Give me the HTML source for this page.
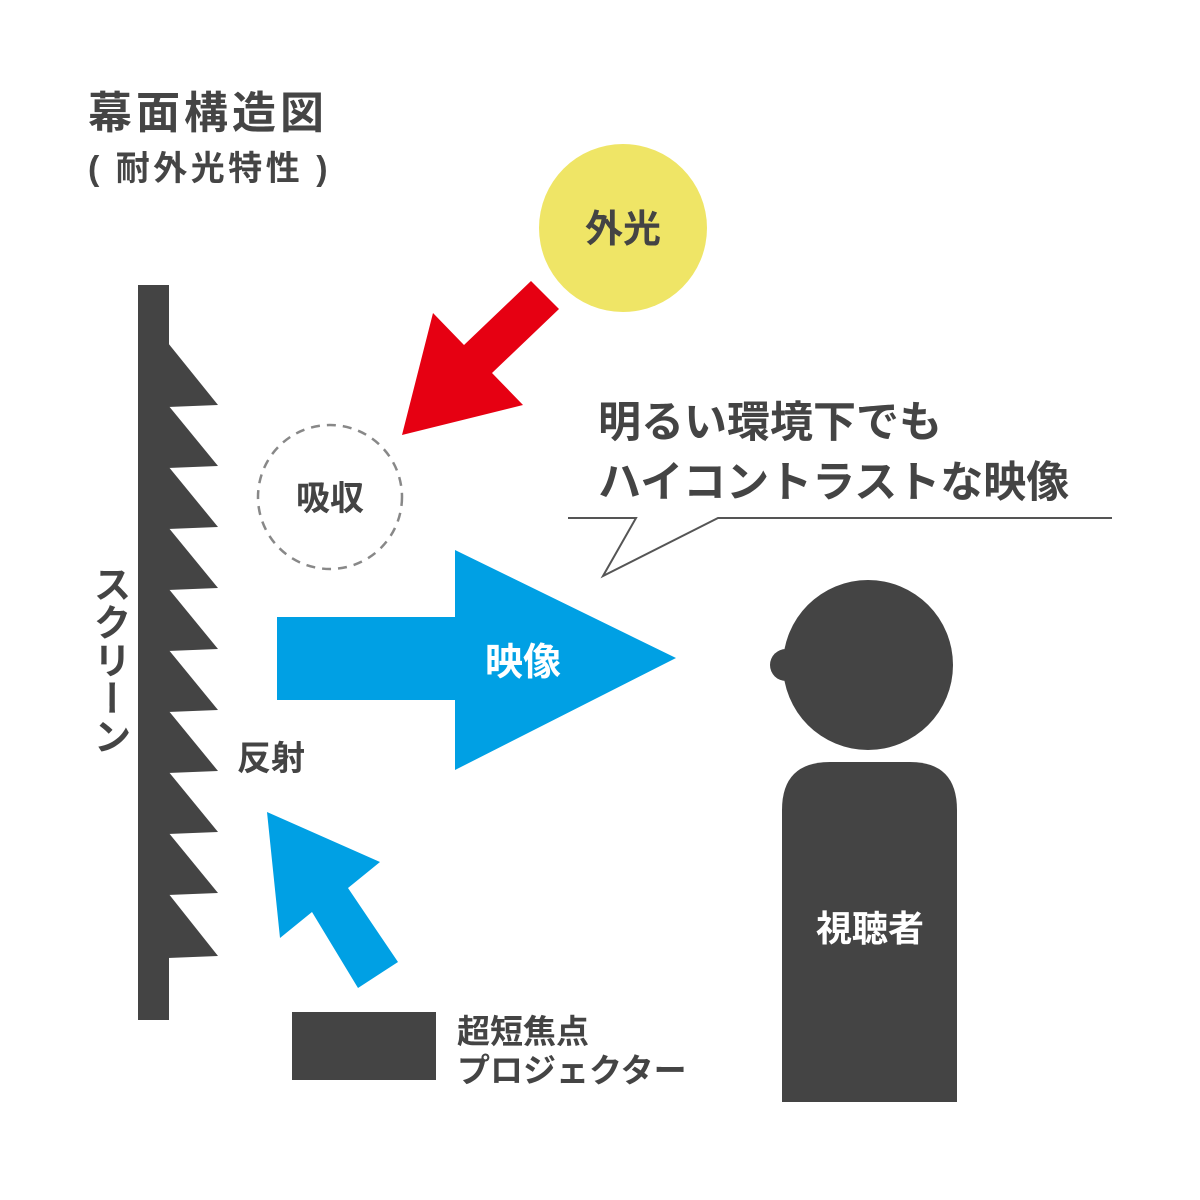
<!DOCTYPE html>
<html><head><meta charset="utf-8"><style>
html,body{margin:0;padding:0;background:#fff;}
svg{display:block;}
text{font-family:"Liberation Sans","Noto Sans CJK JP",sans-serif;font-weight:bold;}
</style></head><body>
<svg width="1200" height="1200" viewBox="0 0 1200 1200" xmlns="http://www.w3.org/2000/svg">
<rect width="1200" height="1200" fill="#fff"/>
<text x="88" y="128" font-size="44" fill="#454545" letter-spacing="4">幕面構造図</text>
<text x="88" y="180" font-size="34" fill="#454545" letter-spacing="3.5">( 耐外光特性 )</text>

<!-- screen -->
<rect x="138" y="285" width="31" height="735" fill="#444"/>
<g fill="#444">
<polygon points="168,343 218,405 168,407"/>
<polygon points="168,405 218,466 168,468"/>
<polygon points="168,466 218,527 168,529"/>
<polygon points="168,527 218,588 168,590"/>
<polygon points="168,588 218,649 168,651"/>
<polygon points="168,649 218,710 168,712"/>
<polygon points="168,710 218,771 168,773"/>
<polygon points="168,771 218,832 168,834"/>
<polygon points="168,832 218,893 168,895"/>
<polygon points="168,893 218,956 168,958"/>
</g>
<text x="108" y="565" font-size="38" fill="#444" style="writing-mode:vertical-rl">スクリーン</text>

<!-- sun -->
<circle cx="623" cy="228" r="84" fill="#efe566"/>
<text x="623" y="242" font-size="38" fill="#444" text-anchor="middle">外光</text>

<!-- red arrow -->
<polygon points="531,281 559,309 492,373 523,405 402,435 433,313 464,345" fill="#e60012"/>

<!-- absorption -->
<circle cx="330" cy="497" r="72" fill="none" stroke="#888" stroke-width="2.5" stroke-dasharray="9,7"/>
<text x="330" y="510" font-size="34" fill="#444" text-anchor="middle">吸収</text>

<!-- big blue arrow -->
<polygon points="277,617 455,617 455,550 676,658 455,770 455,700 277,700" fill="#00a0e4"/>
<text x="523" y="675" font-size="38" fill="#fff" text-anchor="middle">映像</text>

<text x="237" y="770" font-size="34" fill="#444">反射</text>

<!-- small blue arrow -->
<polygon points="267,812 380,862 348,888 398,962 358,988 312,912 280,938" fill="#00a0e4"/>

<!-- projector -->
<rect x="292" y="1012" width="144" height="68" fill="#444"/>
<text x="457" y="1043" font-size="33" fill="#444">超短焦点</text>
<text x="457" y="1082" font-size="33" fill="#444">プロジェクター</text>

<!-- speech -->
<text x="598" y="437" font-size="43" fill="#444">明るい環境下でも</text>
<text x="598" y="497" font-size="43" fill="#444">ハイコントラストな映像</text>
<polyline points="568,518 636,518 603,576 718,518 1112,518" fill="none" stroke="#555" stroke-width="2"/>

<!-- person -->
<circle cx="868" cy="665" r="85" fill="#444"/>
<circle cx="786" cy="665" r="16" fill="#444"/>
<path d="M782,1102 L782,810 Q782,762 830,762 L910,762 Q957,762 957,810 L957,1102 Z" fill="#444"/>
<text x="870" y="941" font-size="36" fill="#fff" text-anchor="middle">視聴者</text>
</svg>
</body></html>
